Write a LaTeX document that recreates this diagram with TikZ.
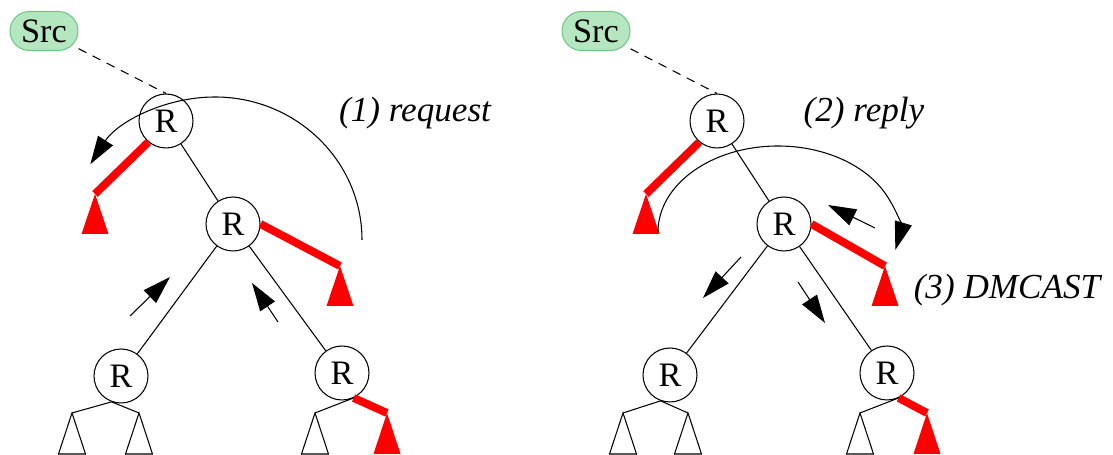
\documentclass[tikz,border=0pt]{standalone}
\usepackage{fontspec}
\setmainfont{Liberation Serif}
\usetikzlibrary{arrows.meta}
\definecolor{srcfill}{RGB}{180,230,192}
\definecolor{srcline}{RGB}{110,200,130}
\tikzset{
	router/.style = {draw, circle, minimum size=1.08cm, inner sep=0pt, font=\fontsize{19.5}{22}\selectfont},
	srcbox/.style = {draw=srcline, fill=srcfill, rounded corners=0.39cm, minimum width=1.36cm, minimum height=0.78cm, inner sep=0pt, font=\fontsize{19.5}{22}\selectfont},
	fat/.style = {red, line width=4.5pt},
	msg/.style = {-{Triangle[length=16pt,width=10pt]}},
	caption/.style = {font=\fontsize{20}{24}\selectfont\itshape},
}
\begin{document}
\begin{tikzpicture}[x=0.02cm, y=0.02cm, line width=0.6pt]
	\useasboundingbox (0,0) rectangle (1113,455);

	% left: request
	\node[srcbox] at (44, 424)  (srcA) {Src};
	\node[router] at (166, 334) (ra1) {R};
	\node[router] at (233, 231) (ra2) {R};
	\node[router] at (121, 79)  (ra3) {R};
	\node[router] at (342, 82)  (ra4) {R};
	\coordinate (ta1) at (95, 261);
	\coordinate (ta2) at (340, 189);
	\coordinate (ta3) at (72, 42);
	\coordinate (ta4) at (139, 42);
	\coordinate (ta5) at (315, 42);
	\coordinate (ta6) at (387, 42);

	\draw[dash pattern=on 5pt off 4pt] (srcA) -- (ra1.north);
	\draw (ra1) -- (ra2);
	\draw (ra2) -- (ra3);
	\draw (ra2) -- (ra4);
	\draw (ra3.-110) -- (ta3);
	\draw (ra3.-110) -- (ta4);
	\draw (ra4.-65) -- (ta5);
	\draw[fat] (ra1.-130) -- (ta1);
	\draw[fat] (ra2.0) -- (ta2);
	\draw[fat] (ra4.-65) -- (ta6);

	\fill[red] (ta1) -- ++(-13.5,-40) -- ++(27,0) -- cycle;
	\fill[red] (ta2) -- ++(-13.5,-40) -- ++(27,0) -- cycle;
	\draw (ta3) -- ++(-13.5,-41) -- ++(27,0) -- cycle;
	\draw (ta4) -- ++(-13.5,-41) -- ++(27,0) -- cycle;
	\draw (ta5) -- ++(-13.5,-41) -- ++(27,0) -- cycle;
	\fill[red] (ta6) -- ++(-13.5,-41) -- ++(27,0) -- cycle;

	\coordinate (ma1) at (130, 139);
	\coordinate (na1) at (170, 178);
	\coordinate (ma2) at (278, 133);
	\coordinate (na2) at (252, 172);
	\coordinate (arcA) at (362, 215);
	\draw[msg] (ma1) -- (na1);
	\draw[msg] (ma2) -- (na2);
	\draw[msg] (arcA) arc[start angle=0, end angle=148, x radius=147, y radius=143];
	\node[caption] at (415, 342) (reqA) {(1) request};

	% right: reply and DMCAST
	\node[srcbox] at (596, 424) (srcB) {Src};
	\node[router] at (717, 334) (rb1) {R};
	\node[router] at (784, 231) (rb2) {R};
	\node[router] at (670, 80)  (rb3) {R};
	\node[router] at (887, 82)  (rb4) {R};
	\coordinate (tb1) at (646, 261);
	\coordinate (tb2) at (885, 189);
	\coordinate (tb3) at (623, 42);
	\coordinate (tb4) at (688, 42);
	\coordinate (tb5) at (860, 42);
	\coordinate (tb6) at (927, 42);

	\draw[dash pattern=on 5pt off 4pt] (srcB) -- (rb1.north);
	\draw (rb1) -- (rb2);
	\draw (rb2) -- (rb3);
	\draw (rb2) -- (rb4);
	\draw (rb3.-110) -- (tb3);
	\draw (rb3.-110) -- (tb4);
	\draw (rb4.-65) -- (tb5);
	\draw[fat] (rb1.-130) -- (tb1);
	\draw[fat] (rb2.0) -- (tb2);
	\draw[fat] (rb4.-65) -- (tb6);

	\fill[red] (tb1) -- ++(-13.5,-40) -- ++(27,0) -- cycle;
	\fill[red] (tb2) -- ++(-13.5,-40) -- ++(27,0) -- cycle;
	\draw (tb3) -- ++(-13.5,-41) -- ++(27,0) -- cycle;
	\draw (tb4) -- ++(-13.5,-41) -- ++(27,0) -- cycle;
	\draw (tb5) -- ++(-13.5,-41) -- ++(27,0) -- cycle;
	\fill[red] (tb6) -- ++(-13.5,-41) -- ++(27,0) -- cycle;

	\coordinate (mb3) at (875, 227);
	\coordinate (nb3) at (828, 250);
	\coordinate (mb4) at (741, 198);
	\coordinate (nb4) at (703, 157);
	\coordinate (mb5) at (798, 173);
	\coordinate (nb5) at (825, 132);
	\coordinate (arcB) at (658, 223);
	\draw[msg] (mb3) -- (nb3);
	\draw[msg] (mb4) -- (nb4);
	\draw[msg] (mb5) -- (nb5);
	\draw[msg] (arcB) arc[start angle=180, end angle=-12, x radius=120, y radius=86];
	\node[caption] at (864, 342) (repB) {(2) reply};
	\node[caption] at (1007, 165) (dmB) {(3) DMCAST};
\end{tikzpicture}
\end{document}
